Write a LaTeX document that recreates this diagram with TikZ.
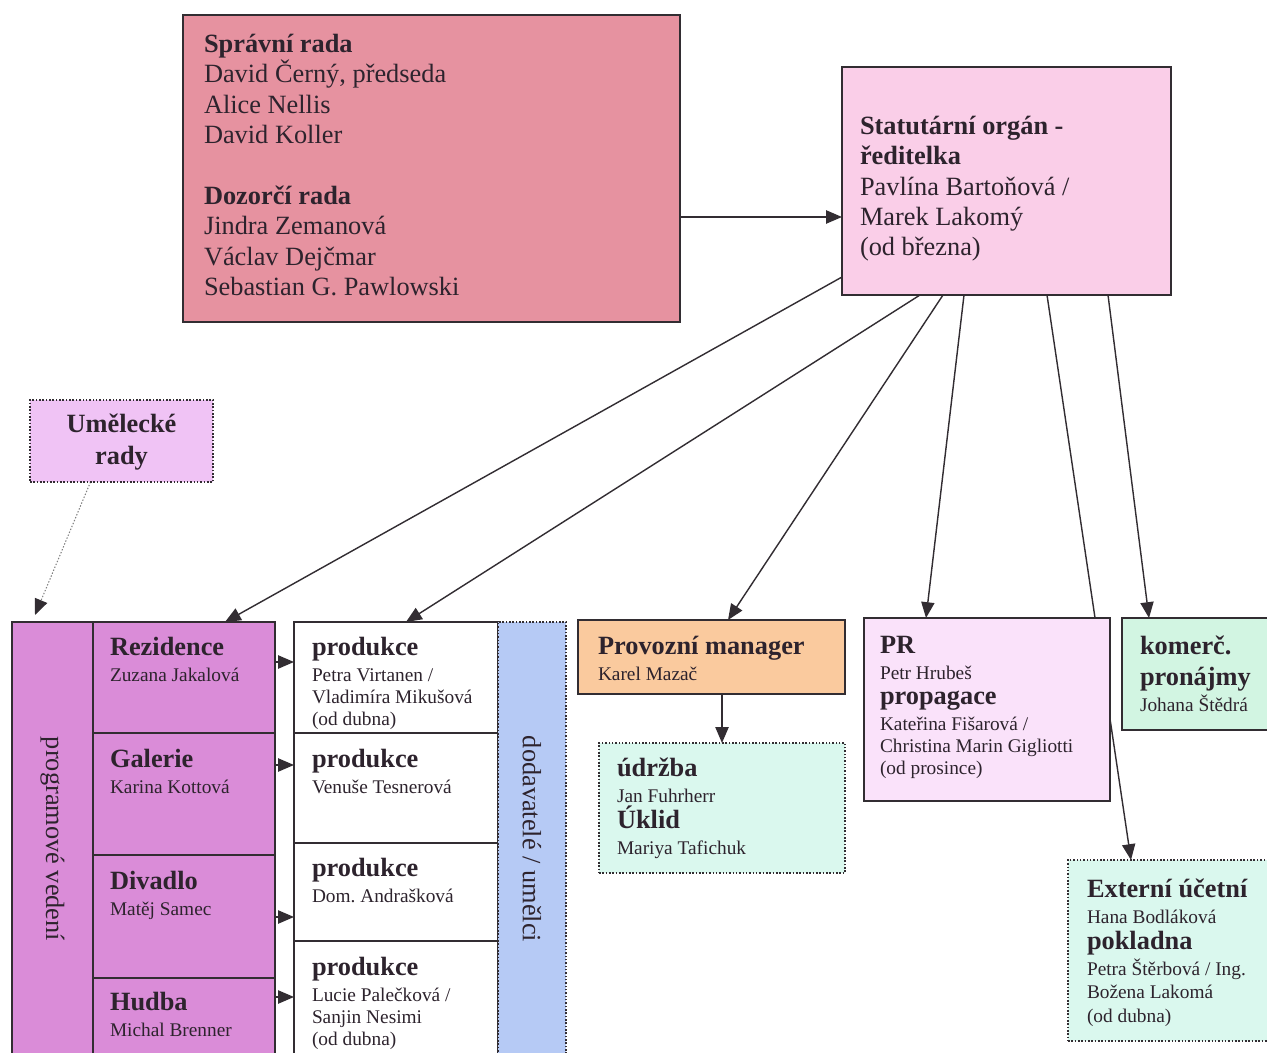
\documentclass[tikz,border=0pt]{standalone}
\usepackage{fontspec}
\setmainfont{Liberation Serif}
\usetikzlibrary{positioning}
\usetikzlibrary{arrows.meta}
\setlength{\lineskiplimit}{-100pt}
\setlength{\lineskip}{0pt}
\definecolor{radacol}{RGB}{230,146,160}
\definecolor{statcol}{RGB}{250,206,232}
\definecolor{umelcol}{RGB}{240,195,245}
\definecolor{progcol}{RGB}{218,140,216}
\definecolor{dodacol}{RGB}{182,202,245}
\definecolor{provcol}{RGB}{250,202,158}
\definecolor{mintcol}{RGB}{218,248,238}
\definecolor{komcol}{RGB}{210,245,226}
\definecolor{prcol}{RGB}{250,226,250}
\definecolor{linecol}{RGB}{50,45,50}
\definecolor{txtcol}{RGB}{45,35,45}
\newcommand{\ttl}[1]{{\fontsize{15}{17.3}\selectfont\bfseries #1}}
\pgfdeclarelayer{bg}
\pgfsetlayers{bg,main}
\tikzset{
	every node/.style = {inner sep=0pt, outer sep=0pt},
	sz/.style 2 args = {minimum width={#1*0.02cm}, minimum height={#2*0.02cm}},
	box/.style = {draw=linecol, line width=0.9pt, anchor=north west},
	dotbox/.style = {box, densely dotted},
	big/.style = {anchor=north west, align=left, text=txtcol, font=\fontsize{15}{17.3}\selectfont},
	small/.style = {anchor=north west, align=left, text=txtcol, font=\fontsize{11}{12.5}\selectfont},
	arr/.style = {-{Triangle[length=9pt,width=7.5pt,color=linecol]}, draw=linecol, line width=0.8pt}
}

\begin{document}
\begin{tikzpicture}[x=0.02cm, y=-0.02cm]
		\useasboundingbox (0,0) rectangle (1267,1053);
		\clip (0,0) rectangle (1267,1053);
		
		% boards
		\node[box, fill=radacol, sz={497}{307}] (rada) at (183,15) {};
		\node[big] (radaT) at ([shift={(21,19)}]rada.north west)
			{\textbf{Správní rada}\\ David Černý, předseda\\ Alice Nellis\\ David Koller\\[17.3pt]
			\textbf{Dozorčí rada}\\ Jindra Zemanová\\ Václav Dejčmar\\ Sebastian G. Pawlowski};
		\node[box, fill=statcol, sz={329}{228}] (stat) at (842,67) {};
		\node[big] (statT) at ([shift={(18,49)}]stat.north west)
			{\textbf{Statutární orgán -}\\ \textbf{ředitelka}\\ Pavlína Bartoňová /\\ Marek Lakomý\\ (od března)};
		\node[dotbox, fill=umelcol, sz={183}{82}] (umel) at (30,400) {};
		\node[align=center, text=txtcol, font=\fontsize{15}{18}\selectfont\bfseries] (umelT) at ([shift={(0,1)}]umel.center) {Umělecké\\ rady};
		
		% program
		\node[box, fill=progcol, sz={81}{434}] (prog) at (12,622) {};
		\node[rotate=-90, text=txtcol, font=\fontsize{15}{17}\selectfont] (progT) at (prog.center) {programové vedení};
		\node[box, fill=progcol, sz={182}{111}] (rez) at (93,622) {};
		\node[box, fill=progcol, sz={182}{122}] (gal) at (93,733) {};
		\node[box, fill=progcol, sz={182}{123}] (div) at (93,855) {};
		\node[box, fill=progcol, sz={182}{78}] (hud) at (93,978) {};
		\node[small] (rezT) at ([shift={(17,15)}]rez.north west) {\ttl{Rezidence}\\[2.2pt] Zuzana Jakalová};
		\node[small] (galT) at ([shift={(17,16)}]gal.north west) {\ttl{Galerie}\\[2.2pt] Karina Kottová};
		\node[small] (divT) at ([shift={(17,16)}]div.north west) {\ttl{Divadlo}\\[2.2pt] Matěj Samec};
		\node[small] (hudT) at ([shift={(17,14)}]hud.north west) {\ttl{Hudba}\\[2.2pt] Michal Brenner};
		
		% production
		\node[box, fill=white, sz={204}{111}] (prod1) at (294,622) {};
		\node[box, fill=white, sz={204}{110}] (prod2) at (294,733) {};
		\node[box, fill=white, sz={204}{98}] (prod3) at (294,843) {};
		\node[box, fill=white, sz={204}{115}] (prod4) at (294,941) {};
		\node[small] (prod1T) at ([shift={(18,15)}]prod1.north west) {\ttl{produkce}\\[2.2pt] Petra Virtanen /\\ Vladimíra Mikušová\\ (od dubna)};
		\node[small] (prod2T) at ([shift={(18,16)}]prod2.north west) {\ttl{produkce}\\[2.2pt] Venuše Tesnerová};
		\node[small] (prod3T) at ([shift={(18,15)}]prod3.north west) {\ttl{produkce}\\[2.2pt] Dom.\ Andrašková};
		\node[small] (prod4T) at ([shift={(18,16)}]prod4.north west) {\ttl{produkce}\\[2.2pt] Lucie Palečková /\\ Sanjin Nesimi\\ (od dubna)};
		\node[dotbox, fill=dodacol, sz={68}{434}] (doda) at (498,622) {};
		\node[rotate=-90, text=txtcol, font=\fontsize{15}{17}\selectfont] (dodaT) at (doda.center) {dodavatelé / umělci};
		
		% operations
		\node[box, fill=provcol, sz={267}{74}] (prov) at (578,620) {};
		\node[small] (provT) at ([shift={(20,16)}]prov.north west) {\ttl{Provozní manager}\\[2.2pt] Karel Mazač};
		\node[dotbox, fill=mintcol, sz={246}{130}] (udrz) at (599,743) {};
		\node[small] (udrzT) at ([shift={(18,15)}]udrz.north west) {\ttl{údržba}\\[2.2pt] Jan Fuhrherr\\[2.2pt] \ttl{Úklid}\\[2.2pt] Mariya Tafichuk};
		\node[box, fill=prcol, sz={246}{183}] (pr) at (864,618) {};
		\node[small] (prT) at ([shift={(16,18)}]pr.north west) {\ttl{PR}\\[2.2pt] Petr Hrubeš\\[2.2pt] \ttl{propagace}\\[2.2pt] Kateřina Fišarová /\\ Christina Marin Gigliotti\\ (od prosince)};
		\node[box, fill=komcol, sz={160}{112}] (kom) at (1122,618) {};
		\node[small] (komT) at ([shift={(18,18)}]kom.north west) {\ttl{komerč.}\\[5pt] \ttl{pronájmy}\\[2.2pt] Johana Štědrá};
		\node[dotbox, fill=mintcol, sz={215}{181}] (ext) at (1068,860) {};
		\node[small] (extT) at ([shift={(19,19)}]ext.north west) {\ttl{Externí účetní}\\[2.2pt] Hana Bodláková\\[2.2pt] \ttl{pokladna}\\[2.2pt] Petra Štěrbová / Ing.\\[1pt] Božena Lakomá\\[1pt] (od dubna)};
		
		% arrows
		\begin{pgfonlayer}{bg}
		\fill[white] (0,0) rectangle (1267,1053);
		\draw[arr] ([shift={(0,202)}]rada.north east) -- ([shift={(0,150)}]stat.north west);
		\draw[arr] ([shift={(0,-18)}]stat.south west) -- ([shift={(132,0)}]rez.north west);
		\draw[arr] ([shift={(78,0)}]stat.south west) -- ([shift={(112,0)}]prod1.north west);
		\draw[arr] ([shift={(101,0)}]stat.south west) -- ([shift={(150,0)}]prov.north west);
		\draw[arr] ([shift={(122,0)}]stat.south west) -- ([shift={(62,0)}]pr.north west);
		\draw[arr] ([shift={(205,0)}]stat.south west) -- ([shift={(63,0)}]ext.north west);
		\draw[arr] ([shift={(266,0)}]stat.south west) -- ([shift={(27,0)}]kom.north west);
		\draw[arr, draw=gray, densely dotted, line width=0.6pt] ([shift={(-31,0)}]umel.south) -- ([shift={(23,-7)}]prog.north west);
		\end{pgfonlayer}
		\draw[arr] ([shift={(0,40)}]rez.north east) -- ([shift={(0,40)}]prod1.north west);
		\draw[arr] ([shift={(0,32)}]gal.north east) -- ([shift={(0,32)}]prod2.north west);
		\draw[arr] ([shift={(0,62)}]div.north east) -- ([shift={(0,74)}]prod3.north west);
		\draw[arr] ([shift={(0,19)}]hud.north east) -- ([shift={(0,56)}]prod4.north west);
		\draw[arr] (udrz.north |- prov.south) -- (udrz.north);
	\end{tikzpicture}
\end{document}
